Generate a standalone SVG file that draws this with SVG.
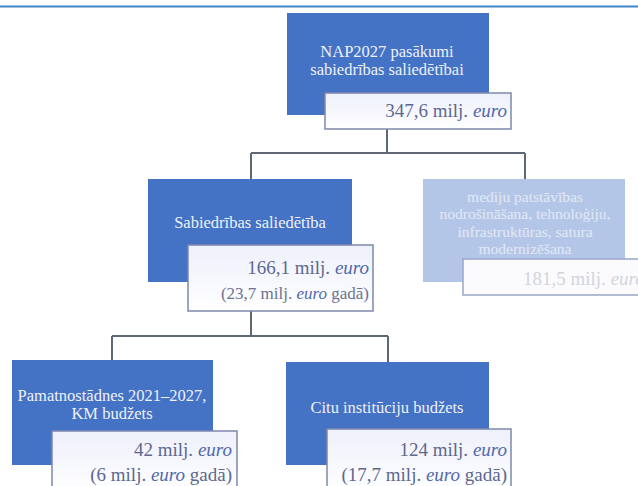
<svg xmlns="http://www.w3.org/2000/svg" width="638" height="486" viewBox="0 0 638 486">
<defs>
<linearGradient id="vg" x1="0" y1="0" x2="0" y2="1">
<stop offset="0" stop-color="#eef0fb"/>
<stop offset="1" stop-color="#ffffff"/>
</linearGradient>
<style>
.dark{fill:#4472c4;}
.light{fill:#b4c6e7;}
.val{fill:url(#vg);stroke:#7d88aa;stroke-width:1.5;}
.vallight{fill:#fbfbfe;stroke:#9aa6c6;stroke-width:1.5;}
.lbl{font-family:"Liberation Serif","Times New Roman",serif;font-size:16.5px;fill:#eef1fa;text-anchor:middle;}
.lbll{font-family:"Liberation Serif","Times New Roman",serif;font-size:15.5px;fill:#e2e9f6;text-anchor:middle;}
.num{font-family:"Liberation Serif","Times New Roman",serif;font-size:19px;fill:#5d6890;text-anchor:end;}
.num2{font-family:"Liberation Serif","Times New Roman",serif;font-size:17px;fill:#6b7392;text-anchor:end;}
.numl{font-family:"Liberation Serif","Times New Roman",serif;font-size:19px;fill:#d2d3dc;text-anchor:start;}
.eu{font-style:italic;fill:#5068ac;}
.eul{font-style:italic;}
.conn{fill:none;stroke:#5f6676;stroke-width:2;}
</style>
</defs>
<rect width="638" height="486" fill="#ffffff"/>
<rect x="0" y="5.5" width="638" height="2" fill="#3f86c8"/>

<g id="connectors">
<path class="conn" d="M387 129 V153 M251 153 H525 M251 153 V179 M525 153 V179"/>
<path class="conn" d="M251 311 V336 M112 336 H388 M112 336 V360 M388 336 V362"/>
</g>

<g id="node-top">
<rect class="dark" x="287" y="13" width="202" height="102"/>
<text class="lbl" x="387" y="57" font-size="17">NAP2027 pasākumi</text>
<text class="lbl" x="387" y="75" font-size="17">sabiedrības saliedētībai</text>
<rect class="val" x="325" y="93" width="186" height="36"/>
<text class="num" x="507" y="117">347,6 milj. <tspan class="eu">euro</tspan></text>
</g>

<g id="node-sabiedribas">
<rect class="dark" x="148" y="179" width="204" height="103"/>
<text class="lbl" x="250" y="228">Sabiedrības saliedētība</text>
<rect class="val" x="188" y="245" width="185" height="66"/>
<text class="num" x="369" y="274">166,1 milj. <tspan class="eu">euro</tspan></text>
<text class="num2" x="369" y="299">(23,7 milj. <tspan class="eu">euro</tspan> gadā)</text>
</g>

<g id="node-mediju">
<rect class="light" x="423" y="179" width="202" height="103"/>
<text class="lbll" x="525" y="202">mediju patstāvības</text>
<text class="lbll" x="525" y="219">nodrošināšana, tehnoloģiju,</text>
<text class="lbll" x="525" y="237">infrastruktūras,  satura</text>
<text class="lbll" x="525" y="254">modernizēšana</text>
<rect class="vallight" x="463" y="259" width="190" height="36"/>
<text class="numl" x="523" y="285">181,5 milj. <tspan class="eul">euro</tspan></text>
</g>

<g id="node-pamatnostadnes">
<rect class="dark" x="12" y="360" width="201" height="105"/>
<text class="lbl" x="112" y="401" font-size="16">Pamatnostādnes 2021–2027,</text>
<text class="lbl" x="112" y="419" font-size="16">KM budžets</text>
<rect class="val" x="52" y="431" width="185" height="62"/>
<text class="num" x="232" y="456">42 milj. <tspan class="eu">euro</tspan></text>
<text class="num" x="232" y="481">(6 milj. <tspan class="eu">euro</tspan> gadā)</text>
</g>

<g id="node-citu">
<rect class="dark" x="286" y="362" width="203" height="103"/>
<text class="lbl" x="387" y="413">Citu institūciju  budžets</text>
<rect class="val" x="327" y="429" width="184" height="64"/>
<text class="num" x="507" y="456">124 milj. <tspan class="eu">euro</tspan></text>
<text class="num" x="507" y="481">(17,7 milj. <tspan class="eu">euro</tspan> gadā)</text>
</g>
</svg>
